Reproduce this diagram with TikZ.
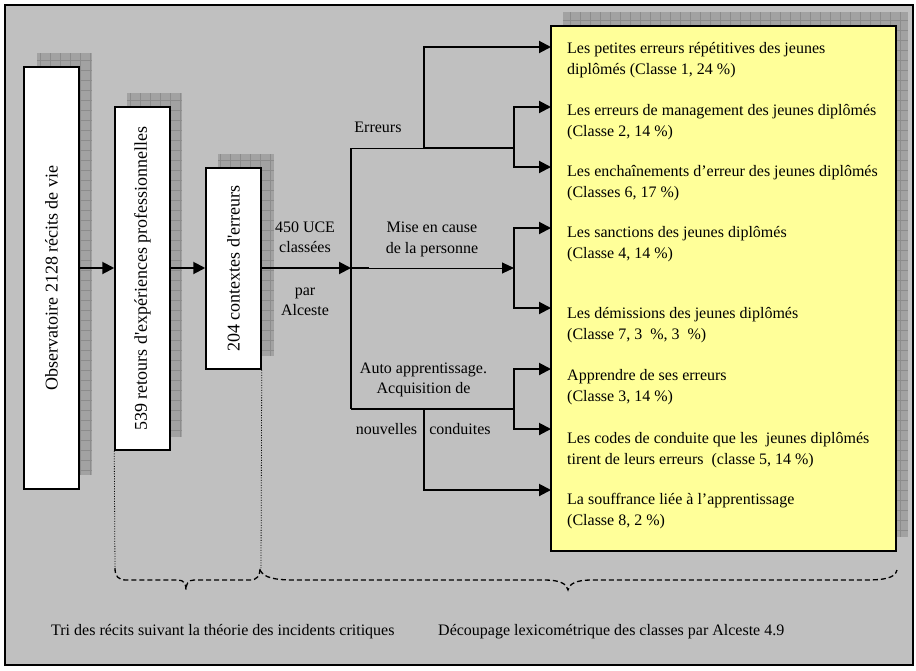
\documentclass[tikz,border=0pt]{standalone}
\usepackage{fontspec}
\setmainfont{Liberation Serif}
\usetikzlibrary{arrows.meta}
\definecolor{bg}{RGB}{192,192,192}
\definecolor{shad}{RGB}{162,162,162}
\definecolor{shadgrid}{RGB}{140,140,140}
\definecolor{yel}{RGB}{255,255,153}
\newcommand{\shadowrect}[4]{%
  \begin{scope}
    \clip (#1,#2) rectangle (#3,#4);
    \fill[shad] (#1,#2) rectangle (#3,#4);
    \draw[shadgrid, line width=0.5pt, step=10pt] (#1,#2) grid (#3,#4);
  \end{scope}}
\begin{document}
\begin{tikzpicture}[x=1pt,y=-1pt,
  txt/.style={font=\fontsize{16}{21}\selectfont, inner sep=0pt},
  rtxt/.style={font=\fontsize{18}{22}\selectfont, inner sep=0pt, rotate=90},
  vbox/.style={draw=black, line width=1.5pt, fill=white, inner sep=0pt, minimum width=55pt},
  arr/.style={line width=2pt, -{Triangle[length=12pt,width=12pt]}},
  thk/.style={line width=2pt},
  thn/.style={line width=1pt},
  bracestyle/.style={dash pattern=on 5pt off 3pt, line width=1.3pt},
  dots/.style={dash pattern=on 1pt off 1.5pt, line width=0.8pt}
]
\useasboundingbox (0,0) rectangle (916,670);
\draw[line width=1.5pt, fill=bg] (5,5) rectangle (913,665);

% shadows
\shadowrect{37}{53}{92}{475}
\shadowrect{127}{93}{182}{437}
\shadowrect{218}{154}{274}{356}
\shadowrect{563}{12}{908}{537}

% boxes
\node[vbox, minimum height=422pt] (b1) at (51.5,278) {};
\node[rtxt] (t1) at (b1.center) {Observatoire 2128 récits de vie};
\node[vbox, minimum height=343pt] (b2) at (142.5,278.5) {};
\node[rtxt] (t2) at (b2.center) {539 retours d\textquotesingle expériences professionnelles};
\node[vbox, minimum height=201pt] (b3) at (233.5,268.5) {};
\node[rtxt] (t3) at (b3.center) {204 contextes d\textquotesingle erreurs};

\node[draw=black, line width=1.5pt, fill=yel, minimum width=345pt, minimum height=525pt, inner sep=0pt] (yb) at (723.5,288.5) {};

% texts in yellow box
\begin{scope}[every node/.style={txt, anchor=base west}]
\node (c1a) at (567,53) {Les petites erreurs répétitives des jeunes};
\node (c1b) at (567,74) {diplômés (Classe 1, 24~\%)};
\node (c2a) at (567,115) {Les erreurs de management des jeunes diplômés};
\node (c2b) at (567,136) {(Classe 2, 14~\%)};
\node (c3a) at (567,176) {Les enchaînements d’erreur des jeunes diplômés};
\node (c3b) at (567,197) {(Classes 6, 17~\%)};
\node (c4a) at (567,237) {Les sanctions des jeunes diplômés};
\node (c4b) at (567,258) {(Classe 4, 14~\%)};
\node (c5a) at (567,318) {Les démissions des jeunes diplômés};
\node (c5b) at (567,339) {(Classe 7, 3~~\%, 3~~\%)};
\node (c6a) at (567,380) {Apprendre de ses erreurs};
\node (c6b) at (567,401) {(Classe 3, 14~\%)};
\node (c7a) at (567,443) {Les codes de conduite que les~ jeunes diplômés};
\node (c7b) at (567,464) {tirent de leurs erreurs~ (classe 5, 14~\%)};
\node (c8a) at (567,504) {La souffrance liée à l’apprentissage};
\node (c8b) at (567,525) {(Classe 8, 2~\%)};
\end{scope}

% labels
\begin{scope}[every node/.style={txt, anchor=base}]
\node (lE) at (378,132) {Erreurs};
\node (l450) at (305,232) {450 UCE};
\node (lcl) at (305,252) {classées};
\node (lpar) at (305,295) {par};
\node (lalc) at (305,315) {Alceste};
\node (lm1) at (432,232) {Mise en cause};
\node (lm2) at (432,253) {de la personne};
\node (la1) at (423.5,373) {Auto apprentissage.};
\node (la2) at (423.5,393) {Acquisition de};
\node (lnv) at (386.5,434) {nouvelles};
\node (lcd) at (460,434) {conduites};
\end{scope}
\begin{scope}[every node/.style={txt, anchor=base west}]
\node (bt1) at (51,635) {Tri des récits suivant la théorie des incidents critiques};
\node (bt2) at (438,635) {Découpage lexicométrique des classes par Alceste 4.9};
\end{scope}

% coordinates
\coordinate (j0) at (351,268);
\coordinate (eA) at (351,148);
\coordinate (eB) at (424,148);
\coordinate (eC) at (514,148);
\coordinate (m1) at (514,268);
\coordinate (aA) at (351,409);
\coordinate (aB) at (424,409);
\coordinate (aC) at (514,409);
\coordinate (r1) at (551,47);
\coordinate (r2) at (551,107);
\coordinate (r3) at (551,167);
\coordinate (r4) at (551,228);
\coordinate (r5) at (551,308);
\coordinate (r6) at (551,369);
\coordinate (r7) at (551,429);
\coordinate (r8) at (551,490);

% main arrows
\draw[arr] (b1.east |- j0) -- (b2.west |- j0);
\draw[arr] (b2.east |- j0) -- (b3.west |- j0);
\draw[arr] (b3.east |- j0) -- (j0);
\draw[line width=1.5pt] (eA) -- (aA);

% Erreurs branch
\draw[thn] (eA) -- (eB);
\draw[thk] (eB) -- (eC);
\draw[arr] (eB) |- (r1);
\draw[arr] (eC) |- (r2);
\draw[arr] (eC) |- (r3);

% Mise en cause branch
\draw[thk] (j0) -- (369,268);
\draw[thn, -{Triangle[length=12pt,width=11pt]}] (j0) -- (m1);
\draw[arr] (m1) |- (r4);
\draw[arr] (m1) |- (r5);

% Auto apprentissage branch
\draw[thk] (aA) -- (aC);
\draw[arr] (aC) |- (r6);
\draw[arr] (aC) |- (r7);
\draw[arr] (aB) |- (r8);

% dotted lines and braces
\draw[dots] (b2.south west) -- (115,568);
\draw[dots] (b3.south east) -- (261,568);
\draw[bracestyle] (115,568) .. controls (115,576) and (118,580) .. (126,580) -- (178,580)
  .. controls (184,580) and (186,584) .. (186,590)
  .. controls (186,584) and (188,580) .. (194,580) -- (250,580)
  .. controls (257,580) and (260,576) .. (260,568);
\draw[bracestyle] (260,570) .. controls (264,578) and (275,580) .. (295,580) -- (545,580)
  .. controls (560,580) and (567,584) .. (568,590)
  .. controls (569,584) and (576,580) .. (591,580) -- (865,580)
  .. controls (885,580) and (895,578) .. (897,570);
\end{tikzpicture}
\end{document}
